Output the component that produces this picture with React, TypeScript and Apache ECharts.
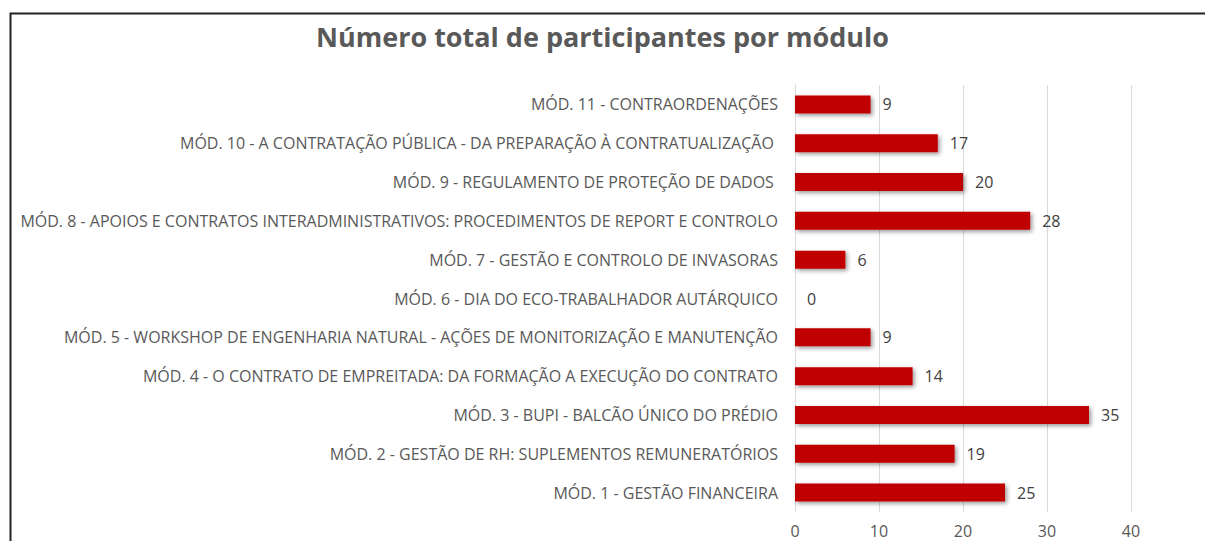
import React, { useEffect, useRef } from "react";
import * as echarts from "echarts";

const categories = [
  "MÓD. 1 - GESTÃO FINANCEIRA",
  "MÓD. 2 - GESTÃO DE RH: SUPLEMENTOS REMUNERATÓRIOS",
  "MÓD. 3 - BUPI - BALCÃO ÚNICO DO PRÉDIO",
  "MÓD. 4 - O CONTRATO DE EMPREITADA: DA FORMAÇÃO A EXECUÇÃO DO CONTRATO",
  "MÓD. 5 - WORKSHOP DE ENGENHARIA NATURAL - AÇÕES DE MONITORIZAÇÃO E MANUTENÇÃO",
  "MÓD. 6 - DIA DO ECO-TRABALHADOR AUTÁRQUICO",
  "MÓD. 7 - GESTÃO E CONTROLO DE INVASORAS",
  "MÓD. 8 - APOIOS E CONTRATOS INTERADMINISTRATIVOS: PROCEDIMENTOS DE REPORT E CONTROLO",
  "MÓD. 9 - REGULAMENTO DE PROTEÇÃO DE DADOS ",
  "MÓD. 10 - A CONTRATAÇÃO PÚBLICA - DA PREPARAÇÃO À CONTRATUALIZAÇÃO ",
  "MÓD. 11 - CONTRAORDENAÇÕES",
];

const participants = [25, 19, 35, 14, 9, 0, 6, 28, 20, 17, 9];

const xTicks = [0, 10, 20, 30, 40];

const FONT = "'Open Sans', 'Noto Sans', sans-serif";

export default function App() {
  const ref = useRef<HTMLDivElement>(null);

  useEffect(() => {
    document.body.style.margin = "0";
    if (!ref.current) return;
    const chart = echarts.init(ref.current, null, { renderer: "svg" });
    chart.setOption({
      animation: false,
      backgroundColor: "#ffffff",
      title: {
        text: "Número total de participantes por módulo",
        left: "center",
        top: 18,
        textStyle: {
          fontFamily: FONT,
          fontSize: 27,
          fontWeight: "bold",
          color: "#595959",
        },
      },
      graphic: [
        {
          type: "polyline",
          shape: {
            points: [
              [10.5, 700],
              [10.5, 13.5],
              [1300, 13.5],
            ],
          },
          style: { fill: "none", stroke: "#222222", lineWidth: 2 },
          silent: true,
          z: 100,
        },
      ],
      grid: { left: 795, top: 85, width: 336, height: 427, containLabel: false },
      xAxis: {
        type: "value",
        min: xTicks[0],
        max: xTicks[xTicks.length - 1],
        interval: 10,
        axisLine: { show: false },
        axisTick: { show: false },
        splitLine: { show: true, lineStyle: { color: "#d9d9d9", width: 1 } },
        axisLabel: {
          fontFamily: FONT,
          fontSize: 16,
          color: "#595959",
          margin: 11,
        },
      },
      yAxis: {
        type: "category",
        data: categories,
        axisLine: { show: true, lineStyle: { color: "#d9d9d9", width: 1 } },
        axisTick: { show: false },
        axisLabel: {
          fontFamily: FONT,
          fontSize: 16,
          color: "#595959",
          margin: 17,
        },
      },
      series: [
        {
          type: "bar",
          data: participants,
          barWidth: 18,
          itemStyle: {
            color: "#C00000",
            shadowColor: "rgba(0,0,0,0.4)",
            shadowBlur: 4,
            shadowOffsetX: 2,
            shadowOffsetY: 2,
          },
          label: {
            show: true,
            position: "right",
            distance: 12,
            fontFamily: FONT,
            fontSize: 16,
            color: "#404040",
          },
        },
      ],
    });
    return () => chart.dispose();
  }, []);

  return <div ref={ref} style={{ width: 1205, height: 541 }} />;
}
